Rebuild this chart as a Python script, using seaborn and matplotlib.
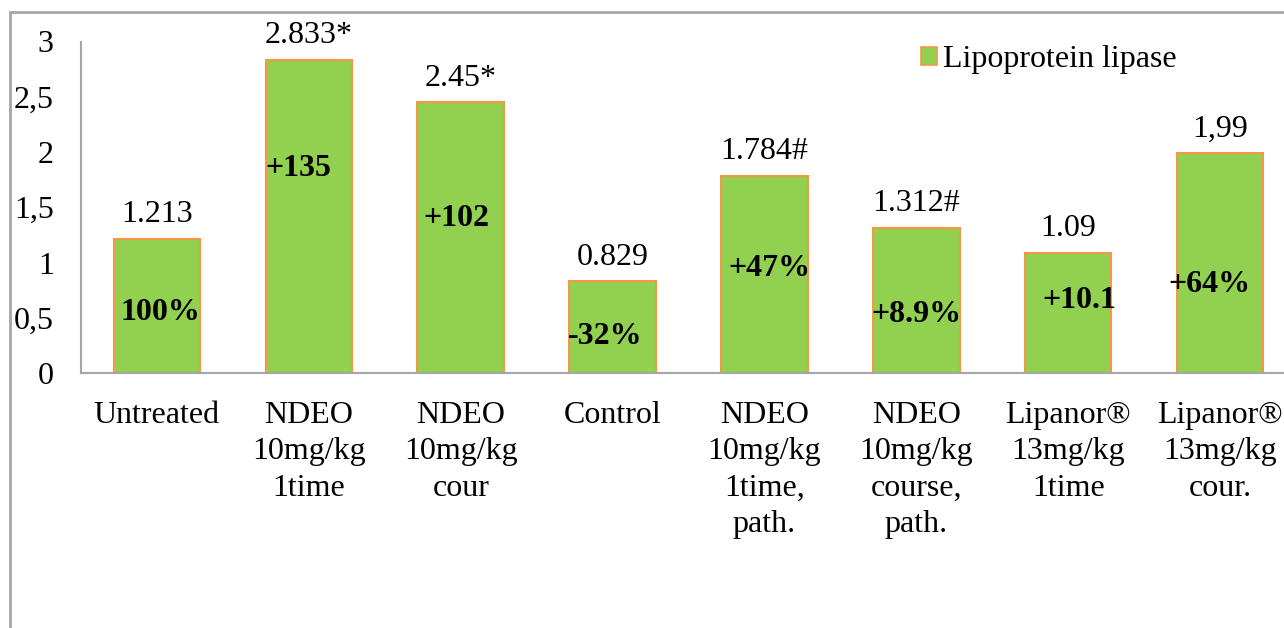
import matplotlib
matplotlib.use("Agg")
import matplotlib.pyplot as plt
import matplotlib.patches as mpatches
import seaborn as sns
import pandas as pd

categories = ["Untreated", "NDEO\n10mg/kg\n1time", "NDEO\n10mg/kg\ncour",
              "Control", "NDEO\n10mg/kg\n1time,\npath.", "NDEO\n10mg/kg\ncourse,\npath.",
              "Lipanor®\n13mg/kg\n1time", "Lipanor®\n13mg/kg\ncour."]
values = [1.213, 2.833, 2.45, 0.829, 1.784, 1.312, 1.09, 1.99]
value_labels = ["1.213", "2.833*", "2.45*", "0.829", "1.784#", "1.312#", "1.09", "1,99"]
inner_labels = ["100%", "+135", "+102", "-32%", "+47%", "+8.9%", "+10.1", "+64%"]
inner_label_y = [0.55, 1.855, 1.40, 0.326, 0.95, 0.525, 0.66, 0.805]
inner_label_dx = [0.02, -0.07, -0.03, -0.05, 0.03, 0.0, 0.07, -0.07]
yticks = [0, 0.5, 1, 1.5, 2, 2.5, 3]
ytick_labels = ["0", "0,5", "1", "1,5", "2", "2,5", "3"]
series_name = "Lipoprotein lipase"

GREEN = "#92D050"
ORANGE = "#F79646"
GRAY = "#A6A6A6"

sns.set_theme(style="white")
plt.rcParams["font.family"] = ["Liberation Serif", "DejaVu Serif"]
plt.rcParams["text.color"] = "black"
plt.rcParams["xtick.color"] = "black"
plt.rcParams["ytick.color"] = "black"
FS = 23

df = pd.DataFrame({"cat": categories, "val": values})

fig = plt.figure(figsize=(12.84, 6.28), dpi=100)
ax = fig.add_axes([81 / 1284, 1 - 373 / 628, 1215 / 1284, (373 - 41.5) / 628])

sns.barplot(data=df, x="cat", y="val", color=GREEN, edgecolor=ORANGE,
            linewidth=1.5, width=0.57, saturation=1, ax=ax)

ax.set_xlim(-0.5, len(categories) - 0.5)
ax.set_ylim(0, 3)
ax.set_yticks(yticks)
ax.set_yticklabels(ytick_labels, fontsize=FS, color="black")
ax.tick_params(axis="y", length=0, pad=19.5)
ax.tick_params(axis="x", length=0, pad=20, labelsize=FS, labelcolor="black")
for lab in ax.get_xticklabels():
    lab.set_linespacing(1.34)
ax.set_xlabel("")
ax.set_ylabel("")
for side in ["top", "right"]:
    ax.spines[side].set_visible(False)
for side in ["left", "bottom"]:
    ax.spines[side].set_color(GRAY)
    ax.spines[side].set_linewidth(1.5)

for i, (v, lab) in enumerate(zip(values, value_labels)):
    ax.annotate(lab, (i, v), xytext=(0, 7), textcoords="offset points",
                ha="center", va="bottom", fontsize=FS, color="black")

for i, (lab, y, dx) in enumerate(zip(inner_labels, inner_label_y, inner_label_dx)):
    ax.text(i + dx, y, lab, ha="center", va="center", fontsize=FS,
            fontweight="bold", color="black")

handle = mpatches.Patch(facecolor=GREEN, edgecolor=ORANGE, linewidth=1.2, label=series_name)
leg = ax.legend(handles=[handle], loc="center left",
                bbox_to_anchor=(921 / 1284, 1 - 60 / 628), bbox_transform=fig.transFigure,
                frameon=False, fontsize=FS, handlelength=0.5, handleheight=0.5,
                handletextpad=0.2, borderpad=0, borderaxespad=0, labelcolor="black")

# figure border (partly outside the image)
fig.patches.append(mpatches.Rectangle((10 / 1284, -0.2), 2.0, (628 - 12) / 628 + 0.2,
                                      transform=fig.transFigure, fill=False,
                                      edgecolor=GRAY, linewidth=2))

fig.savefig("out.png", dpi=100)
